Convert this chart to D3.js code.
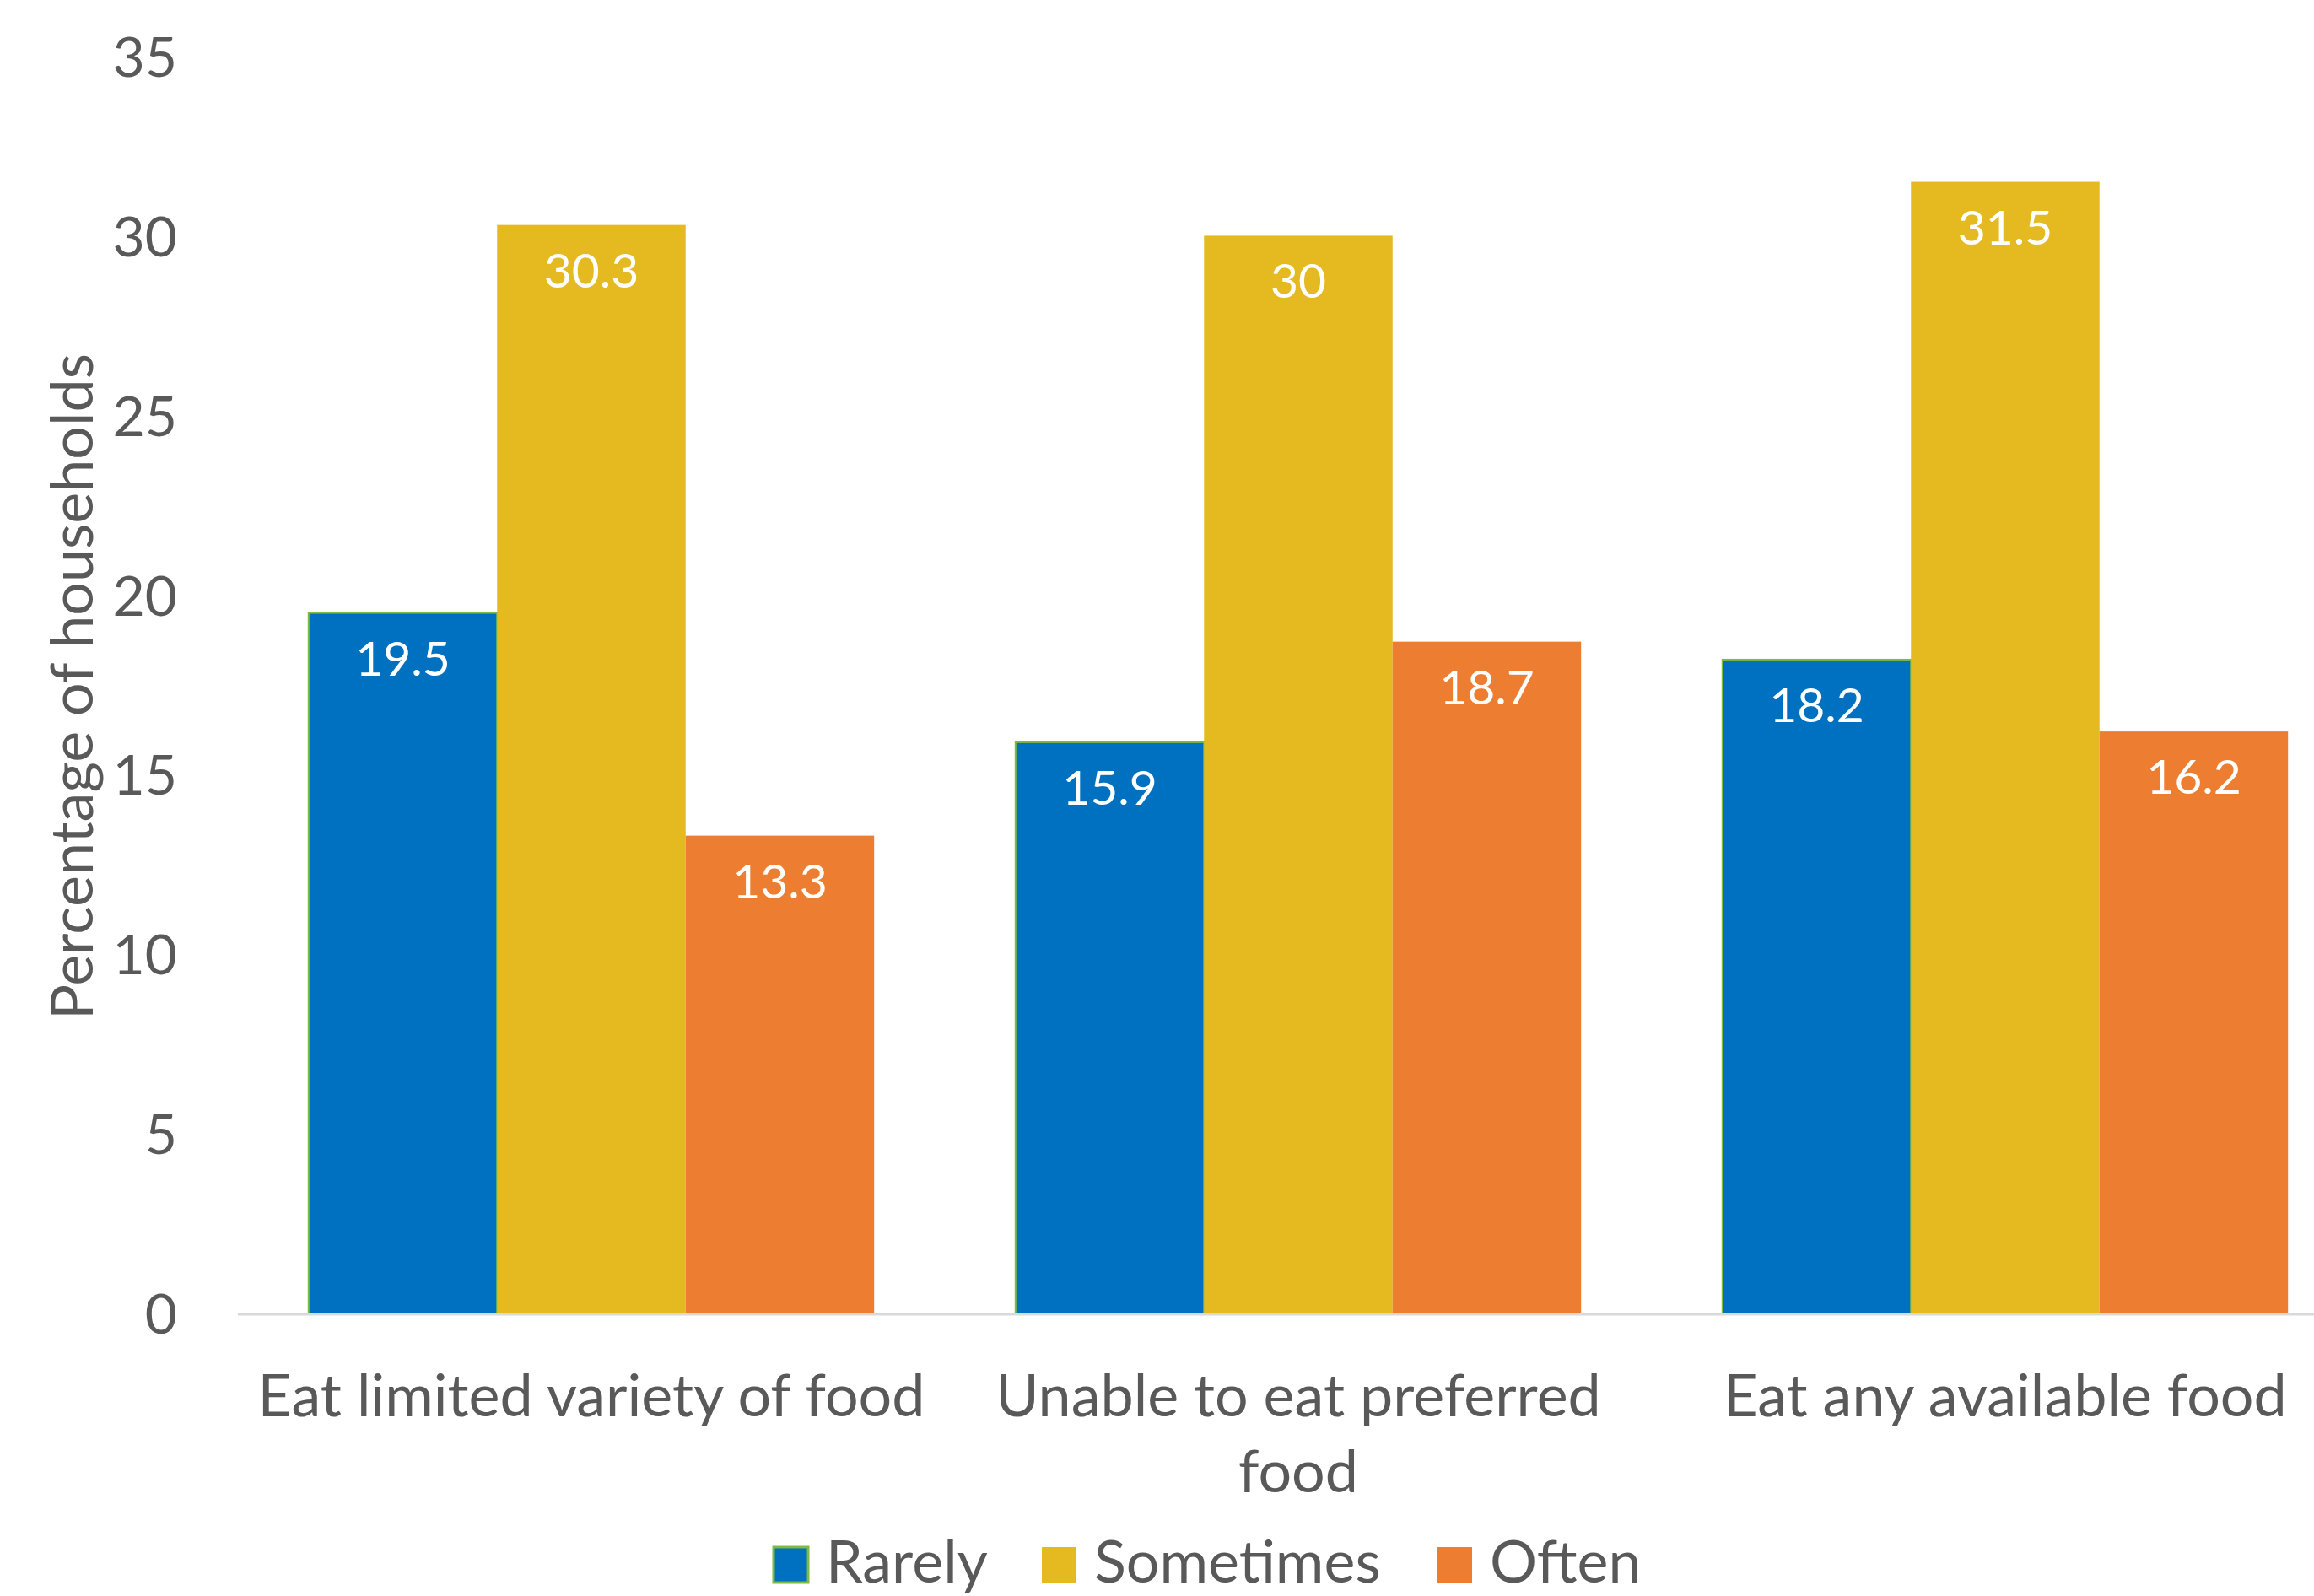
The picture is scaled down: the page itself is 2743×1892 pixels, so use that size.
<!DOCTYPE html>
<html>
<head>
<meta charset="utf-8">
<script src="https://cdn.jsdelivr.net/npm/d3@7"></script>
<style>
  html, body { margin: 0; padding: 0; background: #ffffff; }
  svg { display: block; }
  text { font-family: "Lato", "Open Sans", sans-serif; }
</style>
</head>
<body>
<svg id="chart" width="2743" height="1892"></svg>
<script>
// Household food coping behaviour, percentage of households by frequency
const categories = ["Eat limited variety of food", "Unable to eat preferred food", "Eat any available food"];
const categoryLines = [["Eat limited variety of food"], ["Unable to eat preferred", "food"], ["Eat any available food"]];
const seriesNames = ["Rarely", "Sometimes", "Often"];
const rarely = [19.5, 15.9, 18.2];
const sometimes = [30.3, 30, 31.5];
const often = [13.3, 18.7, 16.2];
const yTicks = [0, 5, 10, 15, 20, 25, 30, 35];

const seriesValues = [rarely, sometimes, often];
const colors = ["#0070C0", "#E5B920", "#ED7D31"];
const outline = ["#7DBB42", "none", "none"];
const textColor = "#595959";

const svg = d3.select("#chart");

const x0 = d3.scaleBand()
  .domain(categories)
  .range([282, 2796])
  .paddingInner(0.2)
  .paddingOuter(0.1);

const x1 = d3.scaleBand()
  .domain(seriesNames)
  .range([0, x0.bandwidth()]);

const y = d3.scaleLinear().domain([0, 35]).range([1557, 66.5]);

// Value axis labels (no line, no ticks)
const yAxis = d3.axisLeft(y).tickValues(yTicks).tickSize(0).tickPadding(0);
const yG = svg.append("g").attr("transform", "translate(210,0)").call(yAxis);
yG.select(".domain").remove();
yG.selectAll("text")
  .attr("fill", textColor)
  .attr("font-size", 66)
  .attr("font-family", "Lato, 'Open Sans', sans-serif")
  .attr("dy", "0.36em");

// Axis title
svg.append("text")
  .attr("transform", "translate(110,814) rotate(-90)")
  .attr("text-anchor", "middle")
  .attr("fill", textColor)
  .attr("font-size", 70)
  .text("Percentage of households");

// Bars
const groups = svg.append("g").selectAll("g")
  .data(categories)
  .join("g")
  .attr("transform", d => `translate(${x0(d)},0)`);

groups.selectAll("rect")
  .data((d, i) => seriesNames.map((s, j) => ({ s, j, v: seriesValues[j][i] })))
  .join("rect")
  .attr("x", d => x1(d.s))
  .attr("y", d => y(d.v))
  .attr("width", x1.bandwidth())
  .attr("height", d => y(0) - y(d.v))
  .attr("fill", d => colors[d.j])
  .attr("stroke", d => outline[d.j])
  .attr("stroke-width", 2);

// Data labels inside the top of each bar
groups.selectAll("text.val")
  .data((d, i) => seriesNames.map((s, j) => ({ s, j, v: seriesValues[j][i] })))
  .join("text")
  .attr("class", "val")
  .attr("x", d => x1(d.s) + x1.bandwidth() / 2)
  .attr("y", d => y(d.v) + 74)
  .attr("text-anchor", "middle")
  .attr("fill", "#ffffff")
  .attr("font-size", 57)
  .text(d => String(d.v));

// Category axis baseline
svg.append("line")
  .attr("x1", 282).attr("x2", 2743)
  .attr("y1", y(0) + 1).attr("y2", y(0) + 1)
  .attr("stroke", "#D9D9D9")
  .attr("stroke-width", 3);

// Category labels
categories.forEach((c, i) => {
  const t = svg.append("text")
    .attr("text-anchor", "middle")
    .attr("fill", textColor)
    .attr("font-size", 70);
  categoryLines[i].forEach((line, k) => {
    t.append("tspan")
      .attr("x", x0(c) + x0.bandwidth() / 2)
      .attr("y", 1679 + k * 90)
      .text(line);
  });
});

// Legend
const legendX = [917, 1235, 1704];
const legend = svg.append("g").selectAll("g")
  .data(seriesNames)
  .join("g")
  .attr("transform", (d, i) => `translate(${legendX[i]},1834)`);

legend.append("rect")
  .attr("width", 41).attr("height", 42)
  .attr("fill", (d, i) => colors[i])
  .attr("stroke", (d, i) => outline[i])
  .attr("stroke-width", 3);

legend.append("text")
  .attr("x", 62).attr("y", 42)
  .attr("fill", textColor)
  .attr("font-size", 70)
  .text(d => d);
</script>
</body>
</html>
